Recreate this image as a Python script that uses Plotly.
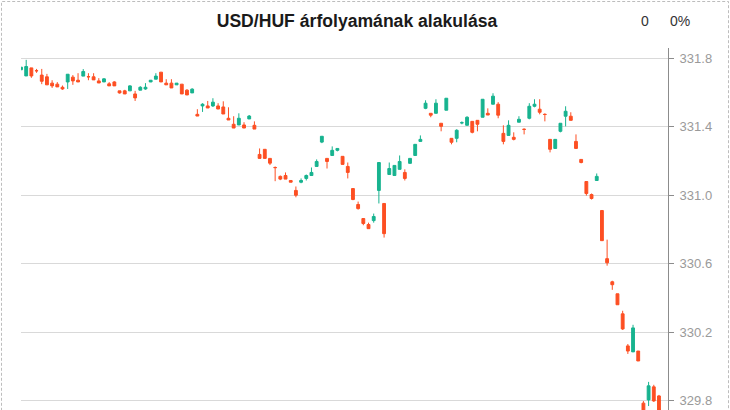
import plotly.graph_objects as go

title_text = "USD/HUF árfolyamának alakulása"
change_abs = "0"
change_pct = "0%"

open_ = [331.732,331.696,331.743,331.727,331.701,331.691,331.654,331.648,331.630,331.661,
         331.689,331.671,331.695,331.692,331.691,331.667,331.661,331.650,331.661,331.609,
         331.609,331.609,331.591,331.613,331.620,331.661,331.677,331.718,331.654,331.654,
         331.644,331.648,331.613,331.597,331.472,331.521,331.521,331.521,331.521,331.515,
         331.449,331.414,331.410,331.410,331.445,331.408,331.238,331.268,331.215,331.162,
         331.110,331.115,331.086,331.028,331.076,331.098,331.115,331.168,331.310,331.215,
         331.232,331.262,331.227,331.168,331.039,330.946,330.864,330.829,330.852,331.028,
         330.952,331.121,331.115,331.151,331.133,331.186,331.232,331.314,331.507,331.478,
         331.478,331.420,331.496,331.332,331.332,331.422,331.408,331.431,331.437,331.455,
         331.478,331.531,331.531,331.361,331.349,331.338,331.426,331.385,331.449,331.519,
         331.502,331.472,331.326,331.273,331.373,331.461,331.461,331.314,331.209,331.080,
         331.004,331.086,330.911,330.630,330.495,330.425,330.308,330.121,330.086,330.091,
         329.787,329.806,329.882,329.829]
high = [331.747,331.790,331.743,331.737,331.737,331.708,331.671,331.660,331.640,331.706,
        331.701,331.712,331.736,331.712,331.712,331.683,331.683,331.660,331.665,331.609,
        331.615,331.642,331.609,331.636,331.654,331.671,331.712,331.718,331.677,331.677,
        331.654,331.648,331.619,331.624,331.502,331.537,331.550,331.566,331.537,331.548,
        331.513,331.461,331.478,331.426,331.468,331.431,331.273,331.268,331.215,331.168,
        331.115,331.133,331.086,331.051,331.098,331.121,331.162,331.209,331.344,331.215,
        331.285,331.273,331.227,331.191,331.039,330.963,330.864,330.840,330.893,331.191,
        330.952,331.191,331.174,331.232,331.151,331.215,331.297,331.349,331.554,331.478,
        331.560,331.420,331.566,331.332,331.385,331.431,331.461,331.431,331.437,331.560,
        331.507,331.595,331.543,331.408,331.437,331.367,331.461,331.390,331.537,331.560,
        331.560,331.478,331.326,331.326,331.420,331.519,331.484,331.355,331.209,331.080,
        331.010,331.127,330.911,330.741,330.501,330.425,330.326,330.132,330.244,330.091,
        329.799,329.911,329.894,329.835]
low = [331.732,331.696,331.685,331.714,331.648,331.644,331.626,331.632,331.615,331.620,
       331.644,331.661,331.695,331.671,331.673,331.655,331.661,331.638,331.638,331.593,
       331.591,331.609,331.550,331.613,331.615,331.660,331.677,331.661,331.644,331.626,
       331.644,331.591,331.585,331.597,331.462,331.486,331.509,331.515,331.503,331.474,
       331.439,331.392,331.410,331.392,331.445,331.386,331.215,331.215,331.176,331.082,
       331.088,331.094,331.076,330.988,331.070,331.086,331.115,331.168,331.304,331.156,
       331.232,331.256,331.180,331.098,330.971,330.916,330.825,330.805,330.840,330.952,
       330.753,331.121,331.115,331.151,331.086,331.186,331.232,331.314,331.502,331.455,
       331.478,331.373,331.496,331.297,331.309,331.414,331.408,331.361,331.373,331.455,
       331.468,331.531,331.449,331.297,331.349,331.320,331.426,331.355,331.443,331.513,
       331.472,331.431,331.250,331.273,331.367,331.402,331.437,331.273,331.186,330.998,
       330.975,331.086,330.735,330.589,330.448,330.361,330.214,330.074,330.086,330.033,
       329.717,329.770,329.794,329.736]
close = [331.747,331.751,331.696,331.726,331.665,331.644,331.638,331.632,331.620,331.706,
         331.667,331.661,331.722,331.691,331.673,331.655,331.679,331.638,331.638,331.597,
         331.591,331.638,331.568,331.630,331.630,331.671,331.695,331.661,331.644,331.626,
         331.654,331.591,331.585,331.619,331.462,331.531,331.509,331.543,331.503,331.474,
         331.439,331.392,331.449,331.392,331.462,331.386,331.215,331.215,331.187,331.161,
         331.094,331.094,331.076,331.000,331.086,331.115,331.133,331.197,331.344,331.197,
         331.262,331.273,331.180,331.133,330.975,330.922,330.835,330.805,330.876,331.191,
         330.776,331.156,331.174,331.197,331.098,331.215,331.297,331.326,331.537,331.467,
         331.537,331.402,331.566,331.309,331.379,331.423,331.455,331.367,331.414,331.560,
         331.468,331.578,331.467,331.314,331.408,331.326,331.443,331.384,331.519,331.531,
         331.484,331.471,331.268,331.326,331.420,331.490,331.437,331.273,331.191,331.010,
         330.981,331.110,330.735,330.606,330.478,330.361,330.220,330.091,330.226,330.033,
         329.729,329.888,329.800,329.747]
idx = list(range(len(close)))

y_ticks = [331.8, 331.4, 331.0, 330.6, 330.2, 329.8]

GREEN = "#17b38f"
RED = "#fd4f23"

fig = go.Figure(go.Candlestick(
    x=idx, open=open_, high=high, low=low, close=close,
    increasing=dict(line=dict(color=GREEN, width=1), fillcolor=GREEN),
    decreasing=dict(line=dict(color=RED, width=1), fillcolor=RED),
    whiskerwidth=0, hoverinfo="skip", showlegend=False,
))

W, H = 730, 410
L, R, T, B = 21, 62, 48, 0
pw = W - L - R
ph = H - T - B

def px(xp):
    return (xp - L) / pw

def py(yp):
    return (H - B - yp) / ph

fig.update_layout(
    width=W, height=H,
    margin=dict(l=L, r=R, t=T, b=B),
    paper_bgcolor="white", plot_bgcolor="white",
    font=dict(family="Liberation Sans, Arial, sans-serif"),
    boxgap=0.22,
    hovermode=False,
    title=dict(text="<b>" + title_text + "</b>", x=357 / W, xanchor="center",
               xref="container", y=1 - 21 / H, yref="container", yanchor="middle",
               font=dict(size=17.6, color="#1a1a1a")),
    xaxis=dict(visible=False, range=[0, len(idx) - 1 + 1.74],
               rangeslider=dict(visible=False), fixedrange=True),
    yaxis=dict(side="right", range=[329.747, 331.859],
               tickvals=y_ticks, ticktext=[f"{v:.1f}" for v in y_ticks],
               showgrid=True, gridcolor="#d9d9d9", gridwidth=1,
               showline=True, linecolor="#8c8c8c", linewidth=1,
               ticks="outside", ticklen=5, tickcolor="#8c8c8c",
               tickfont=dict(size=13, color="#9a9a9a"),
               zeroline=False, ticklabelstandoff=3, fixedrange=True),
    shapes=[dict(type="rect", xref="paper", yref="paper",
                 x0=px(1.5), x1=px(728.5), y0=-0.1, y1=py(1.5),
                 line=dict(color="#bdbdbd", width=1, dash="3px,2px"),
                 fillcolor="rgba(0,0,0,0)", layer="above")],
    annotations=[
        dict(text=change_abs, xref="paper", yref="paper", x=px(645), y=py(21),
             xanchor="center", yanchor="middle", showarrow=False,
             font=dict(size=14, color="#333333")),
        dict(text=change_pct, xref="paper", yref="paper", x=px(680), y=py(21),
             xanchor="center", yanchor="middle", showarrow=False,
             font=dict(size=14, color="#333333")),
    ],
)

fig.write_html("out.html",
               config={"displayModeBar": False, "staticPlot": True},
               post_script="document.body.style.margin='0';document.body.style.overflow='hidden';")
